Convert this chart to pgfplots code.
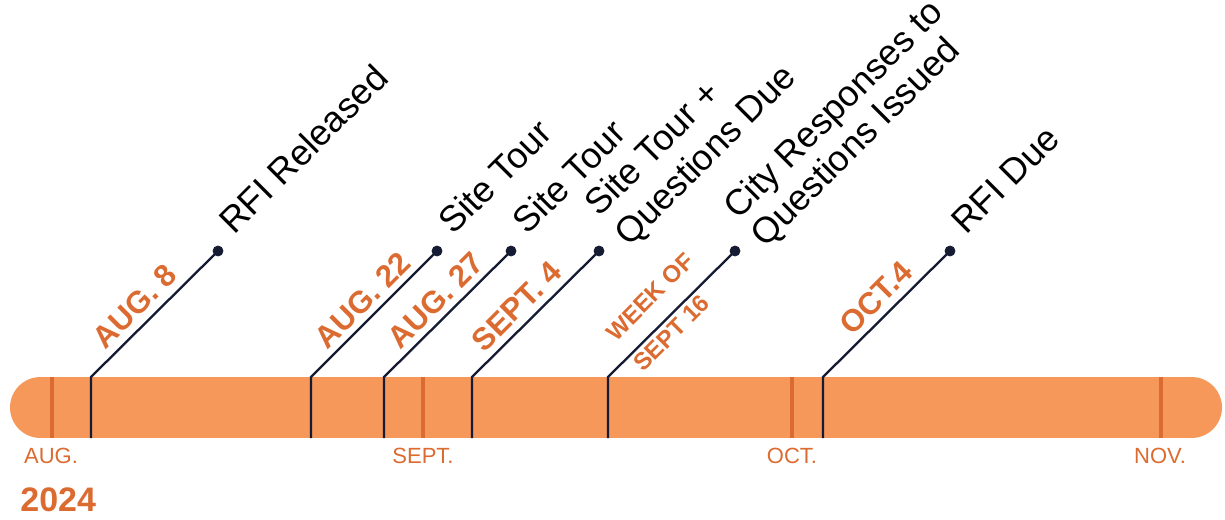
\documentclass[border=0pt]{standalone}
\usepackage{pgfplots}
\pgfplotsset{compat=1.18}
\usepackage{fontspec}
\setmainfont{Liberation Sans}
\definecolor{barc}{HTML}{F5985A}
\definecolor{mo}{HTML}{DB6B30}
\definecolor{navy}{HTML}{141B33}
\newcommand{\evfont}{\fontsize{18}{18}\selectfont}
\newcommand{\datefont}{\fontsize{15.5}{15.5}\selectfont\bfseries}
\newcommand{\weekfont}{\fontsize{12}{12}\selectfont\bfseries}
\newcommand{\monfont}{\fontsize{11}{11}\selectfont}
\newcommand{\yearfont}{\fontsize{17}{17}\selectfont\bfseries}
\begin{document}
\begin{tikzpicture}
\begin{axis}[at={(0,0)}, anchor=south west, scale only axis,
  width=612.5pt, height=259.5pt,
  xmin=0, xmax=1225, ymin=0, ymax=519, y dir=reverse,
  hide axis, clip=false]
% timeline bar
\addplot[draw=barc, line width=30.5pt, line cap=round] coordinates {(40.5,407.5) (1191.5,407.5)};
% month ticks
\addplot[draw=mo, line width=2.2pt] coordinates {(52,377) (52,438)};
\addplot[draw=mo, line width=2.2pt] coordinates {(423,377) (423,438)};
\addplot[draw=mo, line width=2.2pt] coordinates {(792,377) (792,438)};
\addplot[draw=mo, line width=2.2pt] coordinates {(1161,377) (1161,438)};
% event leaders
\addplot[draw=navy, line width=1.15pt, line join=miter] coordinates {(91,438) (91,377) (218,251)};
\addplot[draw=navy, line width=1.15pt, line join=miter] coordinates {(311,438) (311,377) (437,251)};
\addplot[draw=navy, line width=1.15pt, line join=miter] coordinates {(384,438) (384,377) (511,251)};
\addplot[draw=navy, line width=1.15pt, line join=miter] coordinates {(472,438) (472,377) (599,251)};
\addplot[draw=navy, line width=1.15pt, line join=miter] coordinates {(608,438) (608,377) (735,251)};
\addplot[draw=navy, line width=1.15pt, line join=miter] coordinates {(823,438) (823,377) (950,251)};
\addplot[only marks, mark=*, mark size=2.5pt, color=navy] coordinates {(218,251) (437,251) (511,251) (599,251) (735,251) (950,251)};
% event labels
\node[rotate=45, anchor=base west, inner sep=0, font=\evfont] at (axis cs:234.3,236.2) {RFI Released};
\node[rotate=45, anchor=base west, inner sep=0, font=\evfont] at (axis cs:453.3,236.2) {Site Tour};
\node[rotate=45, anchor=base west, inner sep=0, font=\evfont] at (axis cs:527.3,236.2) {Site Tour};
\node[rotate=45, anchor=base west, inner sep=0, font=\evfont] at (axis cs:599.3,218.2) {Site Tour +};
\node[rotate=45, anchor=base west, inner sep=0, font=\evfont] at (axis cs:629,247.9) {Questions Due};
\node[rotate=45, anchor=base west, inner sep=0, font=\evfont] at (axis cs:738.3,221.2) {City Responses to};
\node[rotate=45, anchor=base west, inner sep=0, font=\evfont] at (axis cs:765,248.9) {Questions Issued};
\node[rotate=45, anchor=base west, inner sep=0, font=\evfont] at (axis cs:966.3,236.2) {RFI Due};
% date labels
\node[rotate=45, anchor=base west, inner sep=0, font=\datefont, text=mo] at (axis cs:105.3,350.8) {AUG. 8};
\node[rotate=45, anchor=base west, inner sep=0, font=\datefont, text=mo] at (axis cs:327.4,350.7) {AUG. 22};
\node[rotate=45, anchor=base west, inner sep=0, font=\datefont, text=mo] at (axis cs:400.4,350.7) {AUG. 27};
\node[rotate=45, anchor=base west, inner sep=0, font=\datefont, text=mo] at (axis cs:484.4,353.3) {SEPT. 4};
\node[rotate=45, anchor=base west, inner sep=0, font=\weekfont, text=mo] at (axis cs:615.9,342.6) {WEEK OF};
\node[rotate=45, anchor=base west, inner sep=0, font=\weekfont, text=mo] at (axis cs:643.2,373.2) {SEPT 16};
\node[rotate=45, anchor=base west, inner sep=0, font=\datefont, text=mo] at (axis cs:851.8,336.6) {OCT.4};
% months
\node[anchor=base, inner sep=0, font=\monfont, text=mo] at (axis cs:51,463) {AUG.};
\node[anchor=base, inner sep=0, font=\monfont, text=mo] at (axis cs:423,463) {SEPT.};
\node[anchor=base, inner sep=0, font=\monfont, text=mo] at (axis cs:792,463) {OCT.};
\node[anchor=base, inner sep=0, font=\monfont, text=mo] at (axis cs:1160,463) {NOV.};
% year
\node[anchor=base west, inner sep=0, font=\yearfont, text=mo] at (axis cs:20,511.7) {2024};
\end{axis}
\pgfresetboundingbox
\path[use as bounding box] (current axis.south west) rectangle (current axis.north east);
\end{tikzpicture}
\end{document}
